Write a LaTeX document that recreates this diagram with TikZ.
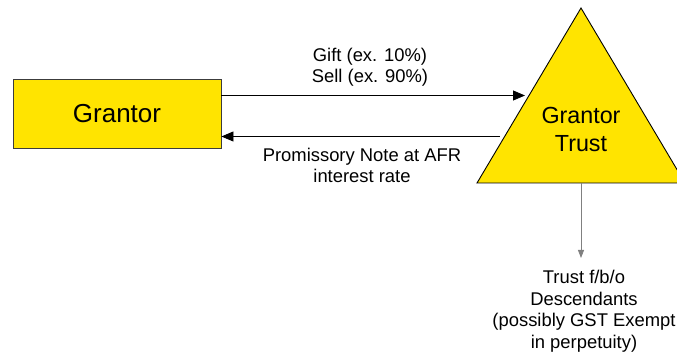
\documentclass[tikz,border=0pt]{standalone}
\usepackage{fontspec}
\setmainfont{Liberation Sans}
\usetikzlibrary{arrows.meta}
\definecolor{gold}{RGB}{255,228,0}
\definecolor{edgegray}{RGB}{60,60,60}
\definecolor{linkgray}{RGB}{128,128,128}
\tikzset{
  label text/.style={font=\fontsize{18.4}{21}\selectfont, align=center, inner sep=0pt},
  flow/.style={line width=0.9pt, -{Triangle[length=12pt,width=10pt]}},
  thin flow/.style={line width=0.8pt, linkgray, -{Triangle[length=8pt,width=6pt]}}
}
\begin{document}
\begin{tikzpicture}[x=1pt,y=-1pt]
  \useasboundingbox (0,0) rectangle (677,355);
  \clip (0,0) rectangle (677,355);
  % grantor box
  \node[draw=edgegray, line width=0.9pt, fill=gold, minimum width=208pt, minimum height=69pt,
        inner sep=0pt, font=\fontsize{26}{30}\selectfont] (grantor) at (117,113.5) {Grantor};
  % trust triangle
  \coordinate (apex) at (581,8);
  \coordinate (bl) at (477,183);
  \coordinate (br) at (685,183);
  \draw[fill=gold, line width=0.9pt] (apex) -- (bl) -- (br) -- cycle;
  \node[font=\fontsize{23.3}{28}\selectfont, align=center, inner sep=0pt] (trust) at (581,129) {Grantor\\Trust};
  % arrow ends at the triangle
  \coordinate (inTop) at (525,95.5);
  \coordinate (outBot) at (500,136.5);
  \coordinate (base) at (581,183.5);
  \draw[flow] (grantor.east |- inTop) -- (inTop);
  \draw[flow] (outBot) -- (grantor.east |- outBot);
  \node[label text] (gift) at (370,67.5) {Gift (ex. 10\%)\\Sell (ex. 90\%)};
  \node[label text] (note) at (362,165.5) {Promissory Note at AFR\\interest rate};
  % descendants trust
  \node[label text, font=\fontsize{18.4}{21.7}\selectfont, anchor=north] (desc) at (584,270)
    {Trust f/b/o\\Descendants\\(possibly GST Exempt\\in perpetuity)};
  \draw[thin flow] (base) -- (581,258);
\end{tikzpicture}
\end{document}
